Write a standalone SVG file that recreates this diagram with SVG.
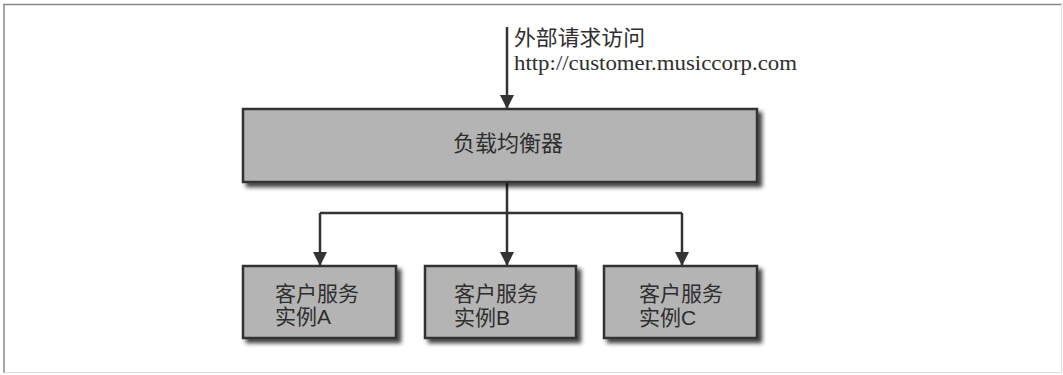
<svg xmlns="http://www.w3.org/2000/svg" width="1063" height="375" viewBox="0 0 1063 375">
  <style>
    .box { fill: #b4b4b4; stroke: #333; stroke-width: 2.5; filter: url(#shadow); }
    .line { fill: none; stroke: #333; stroke-width: 2.5; }
    .cjk { font-family: "Noto Sans CJK SC", "Liberation Sans", sans-serif; fill: #2e2e2e; }
    .lbl { font-family: "Liberation Sans", "Noto Sans CJK SC", sans-serif; fill: #2e2e2e; font-size: 21px; }
    .url { font-family: "Liberation Serif", "Noto Sans CJK SC", serif; fill: #2e2e2e; }
  </style>
  <defs>
    <filter id="shadow" x="-10%" y="-20%" width="130%" height="150%">
      <feGaussianBlur in="SourceAlpha" stdDeviation="2"/>
      <feOffset dx="4" dy="4" result="b"/>
      <feComponentTransfer in="b" result="s"><feFuncA type="linear" slope="0.75"/></feComponentTransfer>
      <feMerge><feMergeNode in="s"/><feMergeNode in="SourceGraphic"/></feMerge>
    </filter>
    <marker id="arrow" markerUnits="userSpaceOnUse" markerWidth="16" markerHeight="14" viewBox="0 0 16 14" refX="13" refY="7" orient="auto">
      <path d="M0,0 L14,7 L0,14 Z" fill="#333"/>
    </marker>
  </defs>
  <rect width="1063" height="375" fill="#fff"/>
  <g id="frame">
    <line x1="3" y1="4.5" x2="1062" y2="4.5" stroke="#888" stroke-width="1.5"/>
    <line x1="4" y1="4" x2="4" y2="373" stroke="#888" stroke-width="1.5"/>
    <line x1="1061.5" y1="4" x2="1061.5" y2="373" stroke="#ddd" stroke-width="1"/>
    <line x1="4" y1="372.5" x2="1062" y2="372.5" stroke="#ddd" stroke-width="1"/>
  </g>
  <g id="connectors">
    <line class="line" x1="507" y1="27" x2="507" y2="108" marker-end="url(#arrow)"/>
    <polyline class="line" points="507,183 507,213"/>
    <polyline class="line" points="320,213 682,213"/>
    <line class="line" x1="320" y1="213" x2="320" y2="265" marker-end="url(#arrow)"/>
    <line class="line" x1="507" y1="213" x2="507" y2="265" marker-end="url(#arrow)"/>
    <line class="line" x1="682" y1="213" x2="682" y2="265" marker-end="url(#arrow)"/>
  </g>
  <g id="external-label">
    <text class="url" x="514" y="45" font-size="21" textLength="131" lengthAdjust="spacingAndGlyphs">外部请求访问</text>
    <text class="url" x="514" y="69.5" font-size="22" textLength="283" lengthAdjust="spacingAndGlyphs">http://customer.musiccorp.com</text>
  </g>
  <g id="load-balancer">
    <rect class="box" x="243" y="109" width="514" height="73"/>
    <text class="cjk" x="508" y="151" font-size="22" text-anchor="middle">负载均衡器</text>
  </g>
  <g id="instance-a">
    <rect class="box" x="243" y="266" width="153" height="72"/>
    <text class="lbl" x="275" y="300.5">客户服务</text>
    <text class="lbl" x="275" y="324">实例A</text>
  </g>
  <g id="instance-b">
    <rect class="box" x="425" y="266" width="151" height="72"/>
    <text class="lbl" x="454" y="301">客户服务</text>
    <text class="lbl" x="454" y="324.5">实例B</text>
  </g>
  <g id="instance-c">
    <rect class="box" x="604" y="266" width="153" height="72"/>
    <text class="lbl" x="639" y="301">客户服务</text>
    <text class="lbl" x="639" y="324.5">实例C</text>
  </g>
</svg>
